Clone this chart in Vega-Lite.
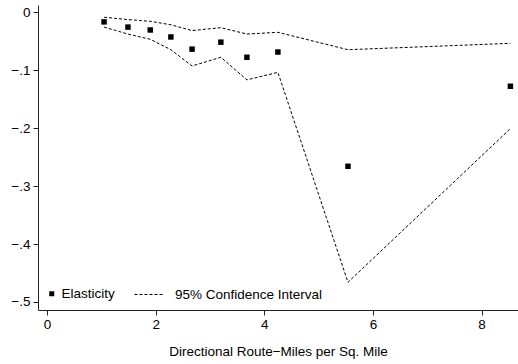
{
  "$schema": "https://vega.github.io/schema/vega-lite/v6.json",
  "autosize": {"type": "none"},
  "width": 480,
  "height": 305,
  "padding": {"left": 38, "top": 5, "right": 0, "bottom": 54},
  "background": "white",
  "config": {
    "view": {"stroke": null},
    "font": "Liberation Sans",
    "axis": {
      "grid": false,
      "domainColor": "#222222",
      "domainWidth": 1,
      "tickColor": "#222222",
      "tickWidth": 1,
      "tickSize": 5,
      "labelColor": "black",
      "labelFont": "Liberation Sans",
      "labelFontSize": 13.5,
      "titleFont": "Liberation Sans",
      "titleFontSize": 13.5,
      "titleFontWeight": "normal",
      "titleColor": "black"
    },
    "legend": {
      "labelFont": "Liberation Sans",
      "labelFontSize": 13.5,
      "labelColor": "black",
      "padding": 0
    }
  },
  "datasets": {
    "elasticity": [
      {"x": 1.05, "y": -0.017, "series": "Elasticity"},
      {"x": 1.49, "y": -0.026, "series": "Elasticity"},
      {"x": 1.90, "y": -0.031, "series": "Elasticity"},
      {"x": 2.28, "y": -0.043, "series": "Elasticity"},
      {"x": 2.67, "y": -0.064, "series": "Elasticity"},
      {"x": 3.20, "y": -0.052, "series": "Elasticity"},
      {"x": 3.68, "y": -0.078, "series": "Elasticity"},
      {"x": 4.25, "y": -0.069, "series": "Elasticity"},
      {"x": 5.54, "y": -0.266, "series": "Elasticity"},
      {"x": 8.53, "y": -0.128, "series": "Elasticity"}
    ],
    "interval": [
      {"x": 1.05, "y": -0.009, "bound": "upper", "series": "95% Confidence Interval"},
      {"x": 1.49, "y": -0.013, "bound": "upper", "series": "95% Confidence Interval"},
      {"x": 1.90, "y": -0.016, "bound": "upper", "series": "95% Confidence Interval"},
      {"x": 2.28, "y": -0.022, "bound": "upper", "series": "95% Confidence Interval"},
      {"x": 2.67, "y": -0.032, "bound": "upper", "series": "95% Confidence Interval"},
      {"x": 3.20, "y": -0.027, "bound": "upper", "series": "95% Confidence Interval"},
      {"x": 3.68, "y": -0.038, "bound": "upper", "series": "95% Confidence Interval"},
      {"x": 4.25, "y": -0.035, "bound": "upper", "series": "95% Confidence Interval"},
      {"x": 5.54, "y": -0.065, "bound": "upper", "series": "95% Confidence Interval"},
      {"x": 8.53, "y": -0.054, "bound": "upper", "series": "95% Confidence Interval"},
      {"x": 1.05, "y": -0.026, "bound": "lower", "series": "95% Confidence Interval"},
      {"x": 1.49, "y": -0.038, "bound": "lower", "series": "95% Confidence Interval"},
      {"x": 1.90, "y": -0.047, "bound": "lower", "series": "95% Confidence Interval"},
      {"x": 2.28, "y": -0.065, "bound": "lower", "series": "95% Confidence Interval"},
      {"x": 2.67, "y": -0.093, "bound": "lower", "series": "95% Confidence Interval"},
      {"x": 3.20, "y": -0.078, "bound": "lower", "series": "95% Confidence Interval"},
      {"x": 3.68, "y": -0.117, "bound": "lower", "series": "95% Confidence Interval"},
      {"x": 4.25, "y": -0.104, "bound": "lower", "series": "95% Confidence Interval"},
      {"x": 5.54, "y": -0.466, "bound": "lower", "series": "95% Confidence Interval"},
      {"x": 8.53, "y": -0.201, "bound": "lower", "series": "95% Confidence Interval"}
    ]
  },
  "encoding": {
    "x": {
      "field": "x",
      "type": "quantitative",
      "scale": {"domain": [-0.166, 8.67], "nice": false, "zero": false},
      "axis": {
        "values": [0, 2, 4, 6, 8],
        "labelPadding": 2,
        "title": "Directional Route−Miles per Sq. Mile",
        "titlePadding": 14
      }
    },
    "y": {
      "field": "y",
      "type": "quantitative",
      "scale": {"domain": [-0.5138, 0.0121], "nice": false, "zero": false},
      "axis": {
        "values": [0, -0.1, -0.2, -0.3, -0.4, -0.5],
        "labelExpr": "datum.value == 0 ? '0' : '−.' + round(-datum.value * 10)",
        "labelPadding": 3,
        "title": null
      }
    }
  },
  "layer": [
    {
      "data": {"name": "interval"},
      "mark": {"type": "line", "color": "black", "strokeWidth": 1},
      "encoding": {
        "detail": {"field": "bound"},
        "strokeDash": {
          "field": "series",
          "type": "nominal",
          "scale": {"domain": ["95% Confidence Interval"], "range": [[3, 2]]},
          "legend": {
            "title": null,
            "orient": "none",
            "legendX": 96,
            "legendY": 274,
            "symbolSize": 900,
            "symbolStrokeColor": "black",
            "symbolStrokeWidth": 1,
            "labelOffset": 10
          }
        }
      }
    },
    {
      "data": {"name": "elasticity"},
      "mark": {"type": "point", "filled": true, "color": "black", "opacity": 1},
      "encoding": {
        "shape": {
          "field": "series",
          "type": "nominal",
          "scale": {"domain": ["Elasticity"], "range": ["square"]},
          "legend": {
            "title": null,
            "orient": "none",
            "legendX": 7,
            "legendY": 282,
            "symbolSize": 25,
            "symbolFillColor": "black",
            "symbolOpacity": 1,
            "labelOffset": 3
          }
        },
        "size": {"value": 30}
      }
    }
  ]
}
